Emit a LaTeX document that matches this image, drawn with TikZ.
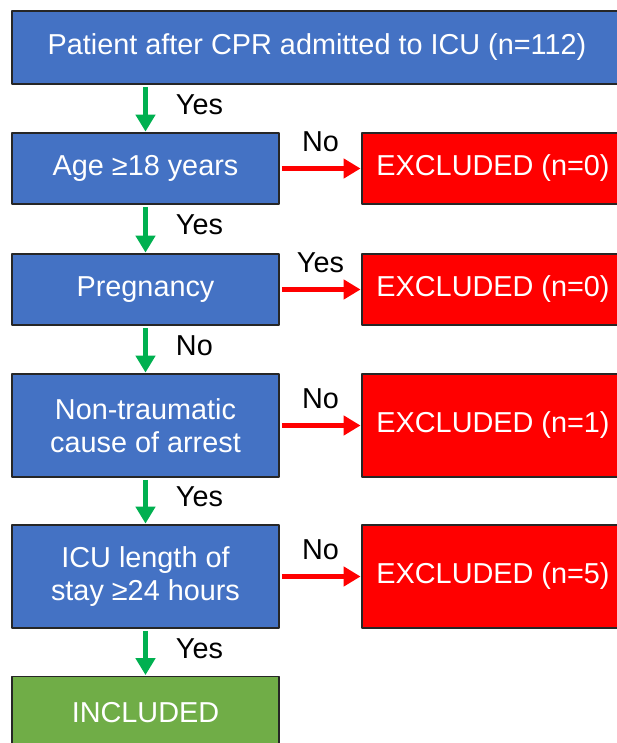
\documentclass[tikz,border=0pt]{standalone}
\usepackage{fontspec}
\setmainfont{Liberation Sans}
\usetikzlibrary{arrows.meta,positioning}
\definecolor{hopxanh}{HTML}{4472C4}
\definecolor{hopdo}{HTML}{FF0000}
\definecolor{hopla}{HTML}{70AD47}
\definecolor{muiten}{HTML}{00B050}
\begin{document}
\begin{tikzpicture}[x=0.025cm,y=-0.025cm,font=\fontsize{20.5}{23.5}\selectfont, line join=round]
	%%%%%%%%% styles
	\tikzset{
		hop/.style={draw=black!85,line width=1pt,text=white,inner sep=0pt,align=center},
		xanh/.style={hop,fill=hopxanh,minimum width=6.675cm,minimum height=1.775cm},
		cao/.style={minimum height=2.575cm},
		loai/.style={hop,fill=hopdo,minimum width=6.55cm,minimum height=1.775cm},
		co/.style={-{Triangle[length=12pt,width=13.5pt]},line width=3.5pt,muiten,shorten <=1.5pt,shorten >=0.5pt},
		khong/.style={-{Triangle[length=12pt,width=13.5pt]},line width=3.5pt,hopdo,shorten <=1.5pt,shorten >=0.5pt},
		nhan/.style={text=black,inner sep=0pt}
	}
	\useasboundingbox(0,0)rectangle(617,743);
	\clip(0,0)rectangle(617,743);
	%%%%%%%%% cot trai
	\node[hop,fill=hopxanh,minimum width=15.25cm,minimum height=1.825cm](dau) at (317,47.5){Patient after CPR admitted to ICU (n=112)};
	\node[xanh](tuoi) at (145.5,168.5){Age ≥18 years};
	\node[xanh](thai) at (145.5,289.5){Pregnancy};
	\node[xanh,cao](chanthuong) at (145.5,425.5){Non-traumatic\\cause of arrest};
	\node[xanh,cao](icu) at (145.5,576.5){ICU length of\\stay ≥24 hours};
	\node[hop,fill=hopla,minimum width=6.675cm,minimum height=1.825cm](nhan) at (145.5,713){INCLUDED};
	%%%%%%%%% cot phai
	\node[loai](loai1) at (493,168.5){EXCLUDED (n=0)};
	\node[loai](loai2) at (493,289.5){EXCLUDED (n=0)};
	\node[loai,cao](loai3) at (493,425.5){EXCLUDED (n=1)};
	\node[loai,cao](loai4) at (493,576.5){EXCLUDED (n=5)};
	%%%%%%%%% mui ten xuong
	\draw[co](dau.south-|tuoi)--(tuoi.north)node[nhan,midway,right=0.7cm,yshift=0.1cm]{Yes};
	\draw[co](tuoi)--(thai)node[nhan,midway,right=0.7cm,yshift=0.1cm]{Yes};
	\draw[co](thai)--(chanthuong)node[nhan,midway,right=0.7cm,yshift=0.1cm]{No};
	\draw[co](chanthuong)--(icu)node[nhan,midway,right=0.7cm,yshift=0.1cm]{Yes};
	\draw[co](icu)--(nhan)node[nhan,midway,right=0.7cm,yshift=0.1cm]{Yes};
	%%%%%%%%% mui ten ngang
	\draw[khong](tuoi)--(loai1)node[nhan,midway,above=0.35cm]{No};
	\draw[khong](thai)--(loai2)node[nhan,midway,above=0.35cm]{Yes};
	\draw[khong](chanthuong)--(loai3)node[nhan,midway,above=0.35cm]{No};
	\draw[khong](icu)--(loai4)node[nhan,midway,above=0.35cm]{No};
\end{tikzpicture}
\end{document}
